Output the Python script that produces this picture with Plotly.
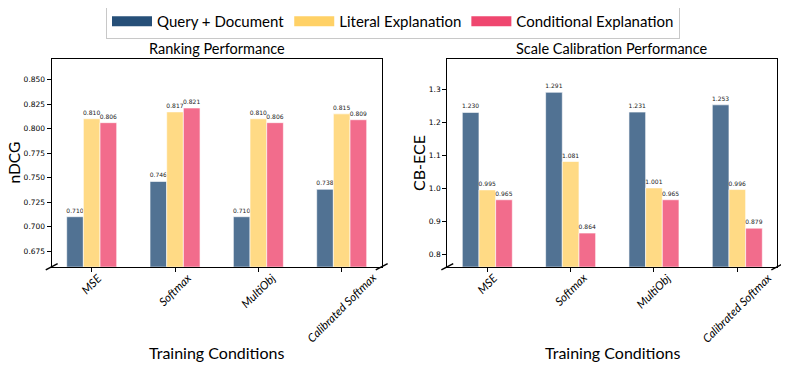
import plotly.graph_objects as go

# data
conditions = ['MSE', 'Softmax', 'MultiObj', 'Calibrated Softmax']
series = ['Query + Document', 'Literal Explanation', 'Conditional Explanation']

ndcg_query_doc = [0.710, 0.746, 0.710, 0.738]
ndcg_literal = [0.810, 0.817, 0.810, 0.815]
ndcg_conditional = [0.806, 0.821, 0.806, 0.809]

cbece_query_doc = [1.230, 1.291, 1.231, 1.253]
cbece_literal = [0.995, 1.081, 1.001, 0.996]
cbece_conditional = [0.965, 0.864, 0.965, 0.879]

ndcg_ticks = [0.675, 0.700, 0.725, 0.750, 0.775, 0.800, 0.825, 0.850]
cbece_ticks = [0.8, 0.9, 1.0, 1.1, 1.2, 1.3]

solid = ['#264f78', '#ffd166', '#ef476f']
faded = ['rgba(38,79,120,0.8)', 'rgba(255,209,102,0.8)', 'rgba(239,71,111,0.8)']

W, H = 789, 368
OFF = 8  # page body margin
TXT = 'Lato'
NUM = 'DejaVu Sans'


def px(x):
    return (x - OFF) / W


def py(y):
    return 1 - (y - OFF) / H


fig = go.Figure()

panels = [
    ('x', 'y', [ndcg_query_doc, ndcg_literal, ndcg_conditional]),
    ('x2', 'y2', [cbece_query_doc, cbece_literal, cbece_conditional]),
]
for xa, ya, vals in panels:
    for i, name in enumerate(series):
        fig.add_trace(go.Bar(
            x=conditions, y=vals[i], name=name, xaxis=xa, yaxis=ya,
            marker=dict(color=faded[i], line=dict(color='rgba(255,255,255,0.6)', width=1)),
            text=[f'{v:.3f}' for v in vals[i]], textposition='outside',
            textfont=dict(family=NUM, size=6, color='#222'),
            textangle=0, constraintext='none', cliponaxis=False,
            showlegend=False, hoverinfo='skip',
        ))

# legend entries: thick line swatches in the full colours, on a hidden axis
for i, name in enumerate(series):
    fig.add_trace(go.Scatter(x=[None], y=[None], name=name, xaxis='x3', yaxis='y3',
                             mode='lines', line=dict(color=solid[i], width=10),
                             showlegend=True))

ydom = [py(266.7), py(59)]
dom_left = [px(51.7), px(381.7)]
dom_right = [px(447.3), px(777.3)]

xcommon = dict(
    type='category', range=[-0.48, 3.48], showline=True, linecolor='black', linewidth=1,
    mirror=True, ticks='outside', ticklen=4, tickcolor='black', showticklabels=False,
    showgrid=False, automargin=False,
)
ycommon = dict(
    showline=True, linecolor='black', linewidth=1.2, mirror=True, ticks='outside',
    ticklen=4, tickcolor='black', showgrid=False, zeroline=False, automargin=False,
    tickfont=dict(family=NUM, size=7.5, color='black'), domain=ydom,
)

fig.update_layout(
    width=W, height=H, margin=dict(l=0, r=0, t=0, b=0, autoexpand=False),
    plot_bgcolor='white', paper_bgcolor='white',
    barmode='group', bargap=0.4, bargroupgap=0,
    xaxis=dict(xcommon, domain=dom_left, anchor='y'),
    xaxis2=dict(xcommon, domain=dom_right, anchor='y2'),
    yaxis=dict(ycommon, anchor='x', range=[0.659, 0.871], tickvals=ndcg_ticks,
               ticktext=[f'{t:.3f}' for t in ndcg_ticks]),
    yaxis2=dict(ycommon, anchor='x2', range=[0.762, 1.392], tickvals=cbece_ticks,
                ticktext=[f'{t:.1f}' for t in cbece_ticks]),
    xaxis3=dict(visible=False, domain=[0.5, 0.51], anchor='y3'),
    yaxis3=dict(visible=False, domain=[0.5, 0.51], anchor='x3'),
    legend=dict(
        orientation='h', x=px(393), xanchor='center', y=py(4), yanchor='top',
        bordercolor='#c8c8c8', borderwidth=1, bgcolor='white',
        font=dict(family=TXT, size=15, color='black'), itemwidth=40,
        tracegroupgap=0,
    ),
)


def note(text, x, y, size, angle=0, xref='paper', italic=False, yanchor='middle'):
    fig.add_annotation(text=text, x=x, y=y, xref=xref, yref='paper',
                       showarrow=False, textangle=angle,
                       xanchor='center', yanchor=yanchor,
                       font=dict(family=TXT, size=size, color='black',
                                 style='italic' if italic else 'normal'))


# category labels centred under their ticks, rotated 45 degrees
for xa in ('x', 'x2'):
    for c in conditions:
        note(c, c, py(268), 11.5, -45, xref=xa, italic=True, yanchor='top')

note('Ranking Performance', (dom_left[0] + dom_left[1]) / 2, py(48), 14.5)
note('Scale Calibration Performance', (dom_right[0] + dom_right[1]) / 2, py(48), 14.5)
note('Training Conditions', (dom_left[0] + dom_left[1]) / 2, py(352), 16)
note('Training Conditions', (dom_right[0] + dom_right[1]) / 2, py(352), 16)
note('nDCG', px(13.5), py(163), 15.5, -90)
note('CB-ECE', px(418), py(163), 16, -90)

# broken-axis marks at the bottom corners
for xd, yd in [('x domain', 'y domain'), ('x2 domain', 'y2 domain')]:
    for cx in (0, 1):
        fig.add_shape(type='line', xref=xd, yref=yd,
                      x0=cx - 0.018, x1=cx + 0.018, y0=-0.015, y1=0.015,
                      line=dict(color='black', width=1.5))

fig.write_html('out.html')
